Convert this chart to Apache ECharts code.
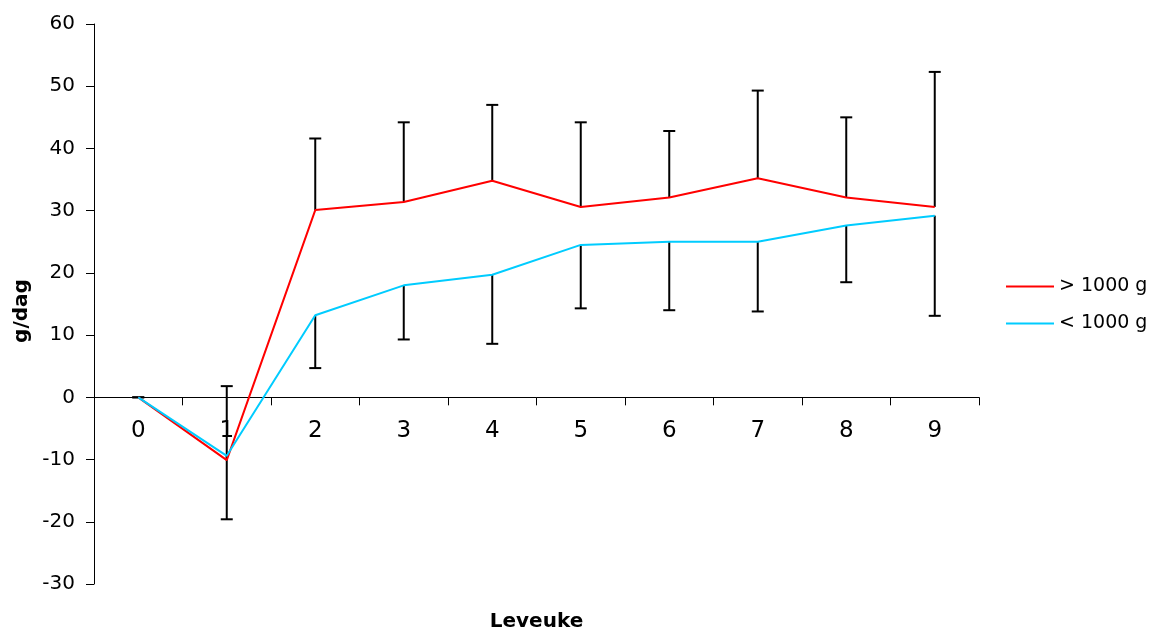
<!DOCTYPE html>
<html>
<head>
<meta charset="utf-8">
<script src="https://cdn.jsdelivr.net/npm/echarts@6/dist/echarts.min.js"></script>
<style>html,body{margin:0;padding:0;background:#fff}#c{width:1152px;height:632px}</style>
</head>
<body>
<div id="c"></div>
<script>
var categories = ['0','1','2','3','4','5','6','7','8','9'];
var seriesNames = ['> 1000 g', '< 1000 g'];
var over1000 = [0, -10.1, 30.1, 31.4, 34.8, 30.6, 32.1, 35.2, 32.1, 30.6];
var under1000 = [0, -9.4, 13.2, 18.0, 19.7, 24.5, 25.0, 25.0, 27.6, 29.2];
var over1000ErrTop = [0, 1.8, 41.6, 44.2, 47.0, 44.2, 42.8, 49.3, 45.0, 52.3];
var under1000ErrBottom = [0, -19.6, 4.7, 9.3, 8.6, 14.3, 14.0, 13.8, 18.5, 13.1];
var yTicks = { min: -30, max: 60, interval: 10 };

var font = '"DejaVu Sans", sans-serif';
var W = 1152, H = 632;
var gridTop = 24, gridBottom = 48;
var gridH = H - gridTop - gridBottom;
// move the category axis up to the zero line
var zeroOffset = -gridH * (0 - yTicks.min) / (yTicks.max - yTicks.min);

function errData(vals, ends) {
  return vals.map(function (v, i) { return [i, v, ends[i]]; });
}
function renderErr(params, api) {
  var i = api.value(0);
  var p0 = api.coord([i, api.value(1)]);
  var p1 = api.coord([i, api.value(2)]);
  var cap = 6;
  var st = { stroke: '#000', lineWidth: 2 };
  return {
    type: 'group',
    children: [
      { type: 'line', shape: { x1: p0[0], y1: p0[1], x2: p1[0], y2: p1[1] }, style: st },
      { type: 'line', shape: { x1: p1[0] - cap, y1: p1[1], x2: p1[0] + cap, y2: p1[1] }, style: st }
    ]
  };
}

var chart = echarts.init(document.getElementById('c'));
chart.setOption({
  animation: false,
  backgroundColor: '#fff',
  textStyle: { fontFamily: font },
  grid: { left: 94, right: 173, top: gridTop, bottom: gridBottom, containLabel: false, outerBoundsMode: 'none' },
  legend: {
    orient: 'vertical',
    left: 1006,
    top: 277,
    padding: 0,
    icon: 'rect',
    itemWidth: 48,
    itemHeight: 2,
    itemGap: 18,
    data: seriesNames,
    textStyle: { fontSize: 19, color: '#000', fontFamily: font }
  },
  xAxis: {
    type: 'category',
    data: categories,
    boundaryGap: true,
    offset: zeroOffset,
    name: 'Leveuke',
    nameLocation: 'middle',
    nameGap: 214,
    nameTextStyle: { fontSize: 20, fontWeight: 'bold', color: '#000', fontFamily: font },
    axisLine: { onZero: false, lineStyle: { color: '#000', width: 1 } },
    axisTick: { show: true, length: 8, alignWithLabel: false, lineStyle: { color: '#000' } },
    axisLabel: { margin: 22, fontSize: 23, color: '#000', fontFamily: font },
    splitLine: { show: false }
  },
  yAxis: {
    type: 'value',
    min: yTicks.min,
    max: yTicks.max,
    interval: yTicks.interval,
    name: 'g/dag',
    nameLocation: 'middle',
    nameGap: 58,
    nameTextStyle: { fontSize: 20, fontWeight: 'bold', color: '#000', fontFamily: font, padding: [0, 14, 0, 0] },
    axisLine: { show: true, lineStyle: { color: '#000', width: 1 } },
    axisTick: { show: true, length: 8, lineStyle: { color: '#000' } },
    axisLabel: { margin: 19, fontSize: 20, color: '#000', fontFamily: font },
    splitLine: { show: false }
  },
  series: [
    {
      type: 'custom',
      name: 'errOver',
      renderItem: renderErr,
      encode: { x: 0, y: [1, 2] },
      data: errData(over1000, over1000ErrTop),
      z: 1
    },
    {
      type: 'custom',
      name: 'errUnder',
      renderItem: renderErr,
      encode: { x: 0, y: [1, 2] },
      data: errData(under1000, under1000ErrBottom),
      z: 1
    },
    {
      type: 'line',
      name: seriesNames[0],
      data: over1000,
      symbol: 'none',
      lineStyle: { color: '#ff0000', width: 2 },
      itemStyle: { color: '#ff0000' },
      z: 3
    },
    {
      type: 'line',
      name: seriesNames[1],
      data: under1000,
      symbol: 'none',
      lineStyle: { color: '#00ccff', width: 2 },
      itemStyle: { color: '#00ccff' },
      z: 3
    }
  ]
});
</script>
</body>
</html>
